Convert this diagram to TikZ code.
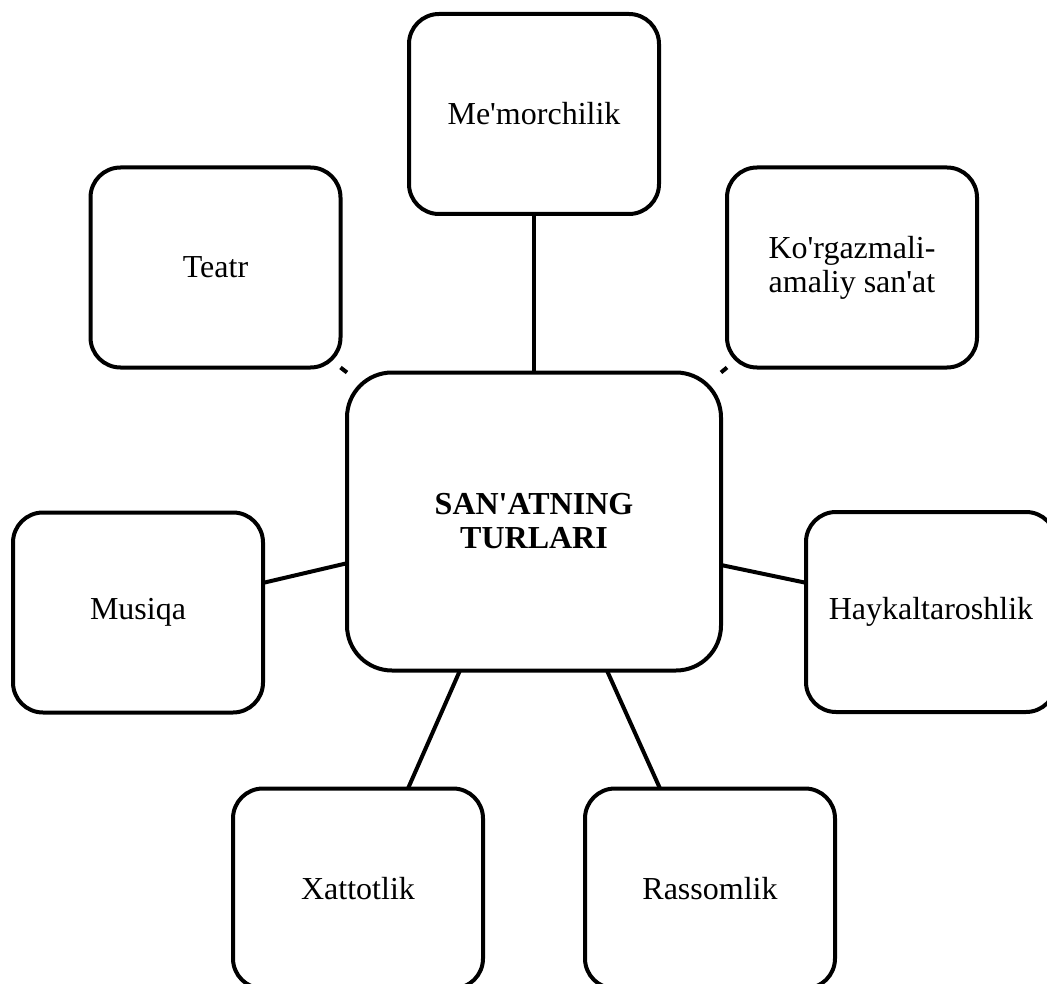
\documentclass[tikz,border=0pt]{standalone}
\usepackage{fontspec}
\setmainfont{Liberation Serif}
\usetikzlibrary{calc}
\newcommand{\ap}{\textquotesingle}
\begin{document}
\begin{tikzpicture}[x=1pt,y=-1pt,
  box/.style={draw, line width=4pt, rounded corners=30pt, minimum width=250pt,
    minimum height=200pt, inner sep=0pt, outer sep=0pt, align=center,
    font=\fontsize{32}{34}\selectfont},
  hub/.style={box, rounded corners=45pt, minimum width=374pt, minimum height=298pt,
    font=\fontsize{32}{34}\selectfont\bfseries},
  link/.style={line width=4pt}]
\useasboundingbox (0,0) rectangle (1047,984);
\node[hub] (c) at (534,521.5) {SAN\ap ATNING\\TURLARI};
\node[box] (me) at (534,114) {Me\ap morchilik};
\node[box] (te) at (215.5,267.5) {Teatr};
\node[box] (ko) at (852,267.5) {Ko\ap rgazmali-\\amaliy san\ap at};
\node[box] (mu) at (138,612.5) {Musiqa};
\node[box] (ha) at (931,612) {Haykaltaroshlik};
\node[box] (xa) at (358,888.5) {Xattotlik};
\node[box] (ra) at (710,888.5) {Rassomlik};
\draw[link] (me.south) -- (c.north);
\draw[link] (te.south east) -- (c.north west);
\draw[link] (ko.south west) -- (c.north east);
\draw[link] ($(mu.north east)!0.352!(mu.south east)$) -- ($(c.north west)!0.64!(c.south west)$);
\draw[link] ($(ha.north west)!0.354!(ha.south west)$) -- ($(c.north east)!0.646!(c.south east)$);
\draw[link] ($(c.south west)!0.302!(c.south east)$) -- ($(xa.north west)!0.70!(xa.north east)$);
\draw[link] ($(c.south west)!0.695!(c.south east)$) -- ($(ra.north west)!0.30!(ra.north east)$);
\end{tikzpicture}
\end{document}
